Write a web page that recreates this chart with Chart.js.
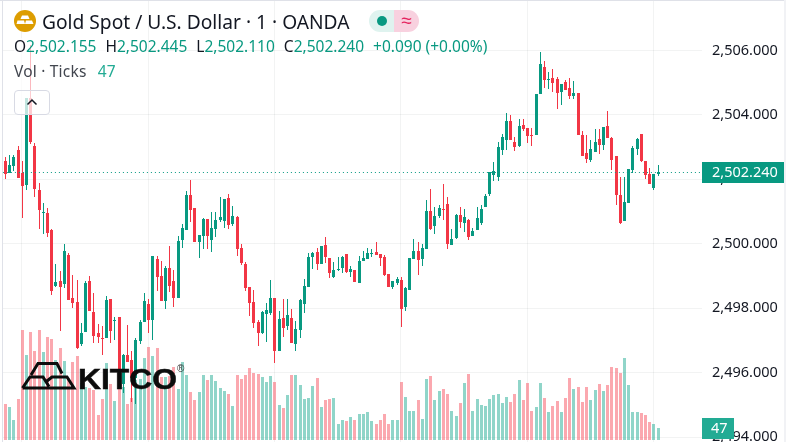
<!DOCTYPE html>
<html>
<head>
<meta charset="utf-8">
<title>Gold Spot / U.S. Dollar</title>
<script src="https://cdn.jsdelivr.net/npm/chart.js@4/dist/chart.umd.min.js"></script>
<style>
  html, body { margin: 0; padding: 0; background: #fff; overflow: hidden; }
  body { width: 786px; height: 442px; position: relative; font-family: "Noto Sans", sans-serif; color: #131722; }
  #priceChart { position: absolute; left: 0; top: 0; }
  .edge { position: absolute; background: #dfe1e8; }
  .row { position: absolute; left: 14px; white-space: nowrap; }
  .up { color: #089981; }
  #veil { position: absolute; left: 14px; top: 38px; width: 110px; height: 52px; background: rgba(255,255,255,.65); }
  #title { top: 9px; left: 42px; font-size: 19.2px; line-height: 26px; }
  #ohlc { top: 36px; font-size: 15.5px; line-height: 21px; }
  #ohlc .gap { margin-left: 9px; }
  #vol { top: 61px; font-size: 15.5px; line-height: 21px; color: #42464f; letter-spacing: .2px; }
  #vol b { font-weight: normal; color: #22ab94; margin-left: 7px; }
  #collapse { position: absolute; left: 14px; top: 90px; width: 34px; height: 23px; border: 1px solid #d8dae4; border-radius: 4px; background: rgba(255,255,255,.75); }
  #pill { position: absolute; left: 369px; top: 10px; width: 50px; height: 22px; border-radius: 11px; overflow: hidden; }
  #pill i { position: absolute; top: 0; height: 22px; }
  #pill .l { left: 0; width: 25px; background: #dff3ef; }
  #pill .r { left: 25px; width: 25px; background: #f8d1df; color: #e5255f; font-style: normal; font-size: 19px; line-height: 20px; text-align: center; }
  #pill .dot { left: 8px; top: 6px; width: 10px; height: 10px; border-radius: 5px; background: #089981; }
  svg { position: absolute; }
</style>
</head>
<body>
<canvas id="priceChart" width="786" height="442"></canvas>

<div class="edge" style="left:0;top:0;width:786px;height:1px"></div>
<div class="edge" style="left:2px;top:0;width:1px;height:442px"></div>
<div class="edge" style="left:784px;top:0;width:2px;height:442px;background:#f1f2f5"></div>

<svg style="left:14px;top:10px" width="22" height="22" viewBox="0 0 22 22">
  <circle cx="11" cy="11" r="11" fill="#dd9d00"/>
  <path d="M8 5.5h6l1.5 3.5h-9zM3.5 10.5h6.5l1 3.5h-8.5zM12 10.5h6l1.5 3.5h-8.5z" fill="#fff"/>
</svg>
<div class="row" id="title">Gold Spot / U.S. Dollar · 1 · OANDA</div>
<div id="pill"><i class="l"></i><i class="dot"></i><i class="r">≈</i></div>
<div id="veil"></div>
<div class="row" id="ohlc">O<span class="up">2,502.155</span><span class="gap">H</span><span class="up">2,502.445</span><span class="gap">L</span><span class="up">2,502.110</span><span class="gap">C</span><span class="up">2,502.240</span><span class="up gap">+0.090 (+0.00%)</span></div>
<div class="row" id="vol">Vol · Ticks <b>47</b></div>
<div id="collapse">
  <svg style="left:11px;top:7px" width="12" height="8" viewBox="0 0 12 8"><path d="M1.5 6.5 6 2l4.5 4.5" fill="none" stroke="#131722" stroke-width="1.5"/></svg>
</div>

<svg style="left:20px;top:360px" width="170" height="32" viewBox="20 360 170 32">
  <path d="M31 375 38 363.5h19l5 10M22.5 388 30 377h13l6 9.5M47 381 52 377h15l7 11H22.5" fill="none" stroke="#0c0c0c" stroke-width="3"/>
  <text x="78" y="388.5" font-family="Liberation Sans" font-weight="bold" font-size="29" textLength="99" lengthAdjust="spacingAndGlyphs" fill="#0c0c0c" stroke="#0c0c0c" stroke-width=".5">KITCO</text>
  <text x="177" y="372" font-family="Liberation Sans" font-size="10" fill="#333">®</text>
</svg>

<script>
const opens = [2502.57,2502.20,2502.41,2502.91,2502.20,2501.82,2504.53,2503.04,2501.67,2500.95,2500.95,2500.43,2498.69,2498.84,2498.75,2499.65,2498.31,2498.19,2496.89,2497.26,2498.84,2497.88,2497.23,2497.07,2497.07,2498.28,2497.60,2497.72,2495.64,2496.55,2496.39,2495.83,2496.98,2497.57,2498.13,2497.63,2499.53,2499.00,2498.22,2499.25,2498.84,2498.31,2500.12,2500.43,2501.51,2501.11,2500.05,2500.24,2500.77,2500.12,2500.46,2500.74,2500.71,2501.42,2500.61,2500.83,
  2499.87,2499.37,2498.66,2498.19,2497.57,2497.23,2497.82,2497.85,2498.31,2496.67,2497.69,2497.45,2497.69,2496.89,2497.32,2498.13,2498.66,2499.59,2499.74,2499.37,2499.96,2499.56,2498.97,2499.19,2499.25,2499.68,2499.12,2499.19,2498.78,2499.46,2499.53,2499.68,2499.74,2499.68,2499.59,2499.06,2498.66,2498.78,2498.87,2498.04,2498.56,2499.53,2499.78,2499.53,2499.84,2501.02,2500.55,2500.86,2501.08,2501.24,2499.96,2500.18,2500.89,2500.64,2500.74,2500.24,2500.43,
  2500.64,2501.14,2501.55,2502.14,2502.07,2502.91,2503.22,2503.81,2503.16,2503.04,2503.69,2503.59,2503.38,2503.38,2504.65,2505.49,2505.08,2505.15,2505.12,2504.71,2505.02,2504.84,2504.59,2504.68,2503.38,2502.82,2502.60,2502.85,2503.25,2503.07,2503.66,2503.29,2502.73,2501.51,2500.71,2501.27,2502.29,2502.94,2503.41,2502.57,2502.17,2501.73,2502.155];
const highs = [2502.69,2502.76,2502.76,2503.04,2502.57,2504.53,2506.17,2503.13,2501.89,2501.27,2501.11,2500.46,2499.37,2499.15,2499.99,2499.71,2499.03,2498.87,2497.54,2498.84,2499.00,2498.47,2497.51,2497.45,2498.38,2498.28,2497.72,2497.72,2496.58,2497.48,2496.67,2497.07,2497.63,2498.47,2498.28,2499.62,2499.62,2499.46,2499.31,2499.93,2499.19,2500.24,2500.61,2501.64,2501.98,2501.11,2500.27,2500.80,2500.77,2500.99,2500.99,2501.45,2501.39,2501.55,2501.17,2500.86,
  2499.99,2499.43,2498.66,2498.56,2497.63,2497.91,2498.16,2498.87,2498.31,2497.91,2498.28,2498.28,2497.97,2497.60,2498.28,2498.91,2499.71,2499.74,2499.87,2499.93,2500.21,2499.56,2499.43,2499.59,2499.62,2499.68,2499.31,2499.19,2499.62,2499.78,2499.87,2499.84,2500.05,2499.68,2499.65,2499.06,2498.84,2498.97,2498.97,2498.66,2499.56,2500.15,2500.05,2499.99,2501.36,2501.70,2501.14,2501.20,2501.86,2501.45,2500.46,2500.92,2501.14,2501.08,2500.77,2500.49,2501.14,
  2501.20,2501.55,2502.23,2502.54,2503.16,2503.41,2504.06,2504.00,2503.32,2503.87,2503.87,2503.59,2503.59,2504.65,2505.95,2505.68,2505.33,2505.43,2505.18,2504.96,2505.08,2505.15,2505.05,2504.68,2503.50,2503.38,2503.22,2503.56,2503.56,2503.63,2504.12,2503.32,2502.73,2502.07,2502.07,2502.32,2503.04,2503.28,2503.41,2502.57,2502.35,2502.17,2502.445];
const lows = [2502.01,2502.20,2502.26,2502.04,2500.80,2501.67,2503.10,2501.45,2500.46,2500.30,2500.21,2498.41,2498.66,2497.29,2498.63,2498.25,2498.00,2496.73,2496.83,2497.26,2497.91,2496.92,2496.92,2496.55,2497.07,2496.92,2497.01,2495.58,2495.37,2496.33,2495.09,2495.02,2496.89,2497.57,2497.23,2497.01,2498.53,2498.22,2497.97,2498.50,2498.04,2498.31,2499.87,2500.43,2500.68,2500.05,2499.56,2499.84,2499.84,2499.74,2500.21,2500.68,2500.49,2500.46,2500.55,2499.62,
  2499.34,2498.53,2497.76,2497.38,2496.83,2497.20,2496.95,2497.79,2496.30,2496.67,2497.10,2497.32,2496.92,2496.67,2497.07,2497.85,2498.66,2499.22,2499.19,2499.37,2499.40,2498.94,2498.94,2499.15,2499.09,2499.09,2498.97,2498.81,2498.78,2499.46,2499.53,2499.59,2499.65,2499.31,2499.00,2498.66,2498.59,2498.72,2497.41,2497.91,2498.56,2499.53,2499.03,2499.31,2499.84,2500.43,2500.30,2500.80,2500.74,2499.84,2499.96,2500.15,2500.49,2500.36,2500.12,2500.24,2500.43,
  2500.58,2501.14,2501.48,2501.95,2501.95,2502.76,2502.91,2503.22,2502.88,2503.00,2503.50,2503.13,2503.04,2503.38,2504.65,2504.84,2504.81,2504.71,2504.18,2504.31,2504.77,2504.49,2504.49,2503.38,2502.73,2502.51,2502.54,2502.85,2502.79,2502.91,2503.29,2502.29,2501.20,2500.61,2500.71,2501.27,2502.20,2502.76,2502.54,2502.01,2501.86,2501.67,2502.11];
const closes = [2502.17,2502.45,2502.69,2502.04,2501.79,2504.53,2503.16,2501.70,2501.05,2500.99,2500.33,2498.53,2498.81,2498.66,2499.78,2498.25,2498.16,2496.76,2497.23,2498.78,2497.91,2497.14,2497.10,2497.04,2498.25,2497.29,2497.63,2495.64,2496.55,2496.33,2495.83,2497.01,2497.57,2498.22,2497.63,2499.62,2498.97,2498.22,2499.25,2498.69,2498.31,2500.09,2500.49,2501.51,2501.05,2500.05,2500.27,2500.77,2500.24,2500.49,2500.74,2500.83,2501.39,2500.58,2500.86,2499.84,
  2499.40,2498.63,2498.16,2497.54,2497.23,2497.88,2497.94,2498.31,2496.67,2497.66,2497.38,2497.79,2496.92,2497.35,2498.25,2498.69,2499.59,2499.71,2499.37,2499.93,2499.59,2499.09,2499.19,2499.22,2499.59,2499.12,2499.22,2498.81,2499.46,2499.56,2499.71,2499.71,2499.65,2499.56,2499.03,2498.66,2498.84,2498.91,2497.97,2498.63,2499.56,2499.78,2499.50,2499.87,2501.02,2500.46,2500.86,2501.11,2501.05,2499.99,2500.15,2500.89,2500.68,2500.83,2500.21,2500.40,2500.80,
  2501.08,2501.48,2502.23,2502.26,2503.00,2503.32,2503.81,2503.22,2503.00,2503.66,2503.56,2503.35,2503.35,2504.65,2505.58,2505.08,2505.12,2504.99,2504.68,2504.96,2504.77,2504.59,2504.68,2503.38,2502.73,2502.63,2502.94,2503.16,2503.07,2503.63,2503.29,2502.60,2501.51,2500.64,2501.30,2502.32,2502.97,2503.25,2502.57,2502.14,2501.86,2502.17,2502.24];
const volumes = [141,129,78,161,431,333,423,349,431,345,404,396,314,361,310,243,306,329,223,208,204,196,98,161,302,220,153,220,208,141,165,235,239,321,365,329,361,247,247,251,286,200,306,255,188,157,188,255,235,255,231,204,192,180,133,255,
  239,255,282,263,259,247,227,251,227,137,125,176,255,255,216,161,165,212,243,129,157,161,165,63,78,74,90,78,102,102,110,74,63,78,102,63,78,78,227,169,114,114,157,82,239,251,157,192,200,180,114,94,145,223,259,114,161,
  137,133,161,176,180,145,169,149,180,235,157,223,114,129,223,165,110,133,153,110,165,243,200,208,149,208,157,196,220,192,216,286,282,263,321,216,110,110,106,98,71,63,47];
const priceTicks = [2506, 2504, 2502, 2500, 2498, 2496, 2494];
const timeGrid = [4, 34, 64, 94, 124, 154];
const lastPrice = closes[closes.length - 1];
const lastVolume = volumes[volumes.length - 1];

const UP = '#089981', DOWN = '#f23645';
const VOL_UP = 'rgba(34, 171, 148, 0.5)', VOL_DOWN = 'rgba(247, 82, 95, 0.5)';

// ten empty minutes to the right of the last candle
const minutes = Array.from({ length: closes.length + 10 }, (_, i) => String(i));
const isUp = i => closes[i] >= opens[i];
const money = (v, d) => v.toLocaleString('en-US', { minimumFractionDigits: d, maximumFractionDigits: d });

// the original snaps candles to whole pixels
const snapBars = {
  id: 'snapBars',
  beforeDatasetsDraw(chart) {
    chart.getSortedVisibleDatasetMetas().forEach(meta => {
      meta.data.forEach(bar => {
        bar.x = Math.round(bar.x - 0.1) + 0.5;
        bar.y = Math.round(bar.y);
        bar.base = Math.round(bar.base);
        if (bar.y === bar.base) bar.base += 1;
      });
    });
  }
};

// dotted last price line and the two price scale labels
const lastMarks = {
  id: 'lastMarks',
  afterDraw(chart) {
    const { ctx, chartArea, scales } = chart;
    const y = Math.round(scales.y.getPixelForValue(lastPrice)) + 0.5;
    ctx.save();
    ctx.strokeStyle = UP;
    ctx.setLineDash([1, 3]);
    ctx.beginPath();
    ctx.moveTo(chartArea.left, y);
    ctx.lineTo(chartArea.right, y);
    ctx.stroke();
    ctx.setLineDash([]);

    ctx.textBaseline = 'middle';
    ctx.textAlign = 'left';
    ctx.font = '14.5px "Noto Sans"';
    ctx.fillStyle = UP;
    ctx.fillRect(702, y - 10.5, 82, 21);
    ctx.fillStyle = '#fff';
    ctx.fillText(money(lastPrice, 3), 712, y + 0.5);

    const vy = scales.yVol.getPixelForValue(lastVolume);
    ctx.fillStyle = '#22ab94';
    ctx.fillRect(702, vy - 10, 32, 21);
    ctx.fillStyle = '#fff';
    ctx.fillText(String(lastVolume), 711, vy + 0.5);
    ctx.restore();
  }
};

new Chart(document.getElementById('priceChart'), {
  type: 'bar',
  data: {
    labels: minutes,
    datasets: [
      {
        label: 'Wick',
        data: lows.map((low, i) => [low, highs[i]]),
        backgroundColor: closes.map((_, i) => isUp(i) ? UP : DOWN),
        barThickness: 1,
        inflateAmount: 0,
        grouped: false,
        yAxisID: 'y',
        order: 2
      },
      {
        label: 'Candle',
        data: opens.map((open, i) => [open, closes[i]]),
        backgroundColor: closes.map((_, i) => isUp(i) ? UP : DOWN),
        barThickness: 3,
        inflateAmount: 0,
        grouped: false,
        yAxisID: 'y',
        order: 1
      },
      {
        label: 'Ticks',
        data: volumes,
        backgroundColor: closes.map((_, i) => isUp(i) ? VOL_UP : VOL_DOWN),
        barThickness: 3,
        inflateAmount: 0,
        grouped: false,
        yAxisID: 'yVol',
        order: 3
      }
    ]
  },
  options: {
    responsive: false,
    animation: false,
    events: [],
    layout: { padding: { left: 2.9, right: 0, top: 0, bottom: 0 } },
    plugins: {
      legend: { display: false },
      tooltip: { enabled: false }
    },
    scales: {
      x: {
        grid: { color: 'rgba(42, 46, 57, 0.06)', offset: false, drawTicks: false },
        border: { display: false },
        ticks: { display: false, autoSkip: false },
        afterBuildTicks: axis => { axis.ticks = timeGrid.map(value => ({ value })); },
        afterFit: axis => { axis.height = 0; axis.paddingLeft = 0; axis.paddingRight = 0; }
      },
      y: {
        position: 'right',
        min: 2493.845,
        max: 2507.568,
        grid: { color: 'rgba(42, 46, 57, 0.06)', drawTicks: false },
        border: { display: false },
        ticks: {
          color: '#131722',
          padding: 10,
          font: { family: '"Noto Sans"', size: 14.5 },
          callback: v => money(v, 3)
        },
        afterBuildTicks: axis => { axis.ticks = priceTicks.map(value => ({ value })); },
        afterFit: axis => { axis.width = 84; axis.paddingTop = 0; axis.paddingBottom = 0; }
      },
      yVol: {
        display: false,
        min: -7.83,
        max: 1723
      }
    }
  },
  plugins: [snapBars, lastMarks]
});
</script>
</body>
</html>
